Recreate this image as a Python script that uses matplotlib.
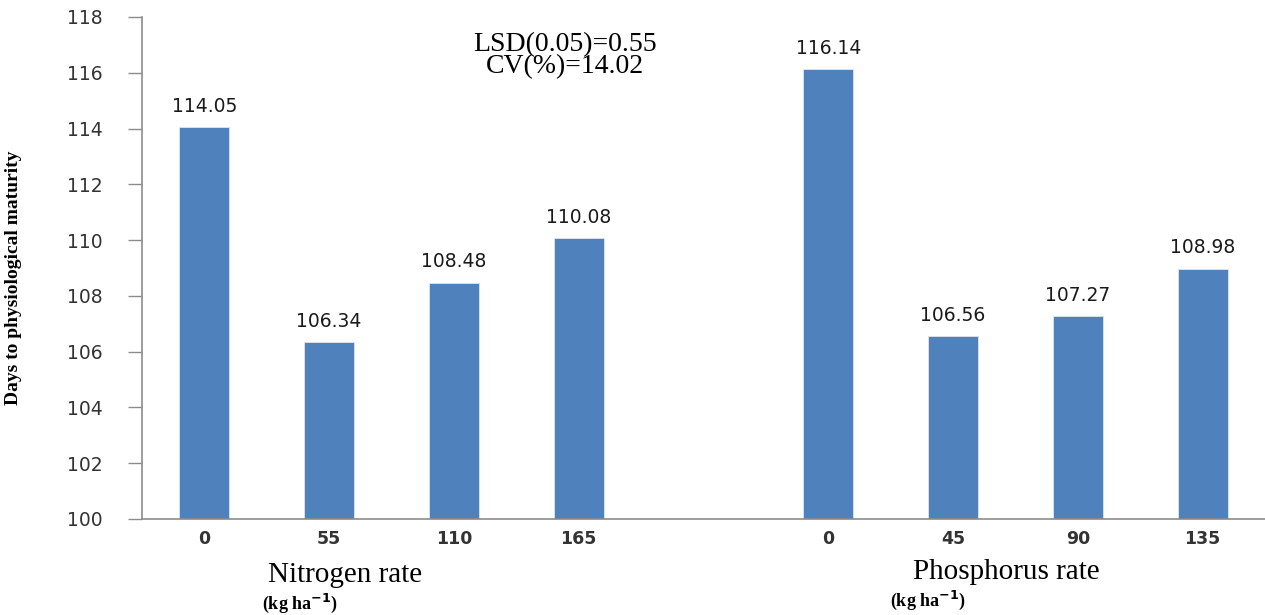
import numpy as np
import matplotlib
matplotlib.use('Agg')
import matplotlib.pyplot as plt

# Data
nitrogen_rates = ['0', '55', '110', '165']
nitrogen_days = [114.05, 106.34, 108.48, 110.08]
phosphorus_rates = ['0', '45', '90', '135']
phosphorus_days = [116.14, 106.56, 107.27, 108.98]
y_ticks = [100, 102, 104, 106, 108, 110, 112, 114, 116, 118]

bar_color = '#4F81BD'
axis_color = '#8C8C8C'

# one empty slot between the two groups
tick_labels = nitrogen_rates + [''] + phosphorus_rates
values = nitrogen_days + [np.nan] + phosphorus_days
x = np.arange(len(tick_labels))

fig = plt.figure(figsize=(12.65, 6.15), dpi=100)
ax = fig.add_axes([142 / 1265, 1 - 519 / 615, 1 - 142 / 1265, (519 - 17) / 615])

mask = ~np.isnan(values)
bars = ax.bar(x[mask], np.array(values)[mask] - 100, bottom=100, width=0.4,
              color=bar_color, edgecolor='#DCE6F2', linewidth=0.6, zorder=2)

# value labels above bars
for xi, v in zip(x[mask], np.array(values)[mask]):
    ax.text(xi, v + 0.4, f'{v:.2f}', ha='center', va='bottom',
            fontsize=13.5, color='#1a1a1a', family='DejaVu Sans')

ax.set_xlim(-0.5, len(tick_labels) - 0.5)
ax.set_ylim(100, 118)
ax.set_yticks(y_ticks)
ax.set_yticklabels([str(t) for t in y_ticks], fontsize=13.5, color='#333333')
ax.set_xticks(x)
ax.set_xticklabels(tick_labels, fontsize=12.5, fontweight='bold', color='#333333')
ax.tick_params(axis='x', length=0, pad=8)
ax.tick_params(axis='y', length=10, width=1, color=axis_color, pad=18)

for side in ['top', 'right']:
    ax.spines[side].set_visible(False)
ax.spines['left'].set_color(axis_color)
ax.spines['bottom'].set_color(axis_color)
ax.spines['left'].set_linewidth(1.2)
ax.spines['bottom'].set_linewidth(1.2)

ax.set_ylabel('Days to physiological maturity', family='Liberation Serif',
              fontsize=14, fontweight='bold')
ax.yaxis.set_label_coords(-0.107, 0.48)

# statistics annotation
fig.text(565 / 1265, 1 - 56 / 615, 'LSD(0.05)=0.55\nCV(%)=14.02', ha='center', va='center',
         family='Liberation Serif', fontsize=20, linespacing=0.85)

# group titles below the axis
fig.text(345 / 1265, 1 - 575 / 615, 'Nitrogen rate', ha='center', va='center',
         family='Liberation Serif', fontsize=21)
fig.text(300 / 1265, 1 - 603 / 615, r'(kg ha$^{\mathbf{-1}}$)', ha='center', va='center',
         family='Liberation Serif', fontsize=13, fontweight='bold')
fig.text(1006 / 1265, 1 - 572 / 615, 'Phosphorus rate', ha='center', va='center',
         family='Liberation Serif', fontsize=21)
fig.text(928 / 1265, 1 - 600 / 615, r'(kg ha$^{\mathbf{-1}}$)', ha='center', va='center',
         family='Liberation Serif', fontsize=13, fontweight='bold')

fig.savefig('out.png', dpi=100)
